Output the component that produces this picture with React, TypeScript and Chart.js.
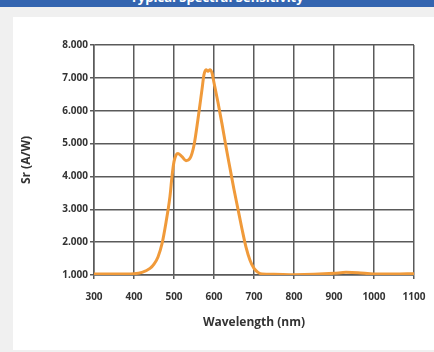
import React, { useEffect, useRef } from "react";
import { Chart, registerables } from "chart.js";

Chart.register(...registerables);

const wavelengths = [300, 350, 400, 420, 440, 450, 460, 470, 480, 490, 495, 500, 505, 510, 520, 530, 540, 550, 560, 570, 575, 580, 585, 590, 595, 600, 610, 620, 630, 640, 650, 660, 670, 680, 690, 700, 710, 720, 750, 800, 850, 900, 930, 960, 1000, 1050, 1100];
const sensitivity = [1030, 1030, 1040, 1080, 1200, 1330, 1550, 1950, 2600, 3400, 4000, 4450, 4650, 4700, 4600, 4480, 4550, 4950, 5750, 6650, 7100, 7250, 7200, 7250, 7150, 6850, 6250, 5600, 4900, 4250, 3600, 3000, 2400, 1850, 1450, 1200, 1080, 1030, 1020, 1010, 1020, 1050, 1080, 1070, 1030, 1030, 1040];

const xTicks = [300, 400, 500, 600, 700, 800, 900, 1000, 1100];
const yTicks = [1000, 2000, 3000, 4000, 5000, 6000, 7000, 8000];
const yTitle = "Sr (A/W)";
const xTitle = "Wavelength (nm)";
const headerText = "Typical Spectral Sensitivity";

const fmt = (v: number) => {
  const s = String(Math.round(v));
  return s.length > 3 ? s.slice(0, s.length - 3) + "." + s.slice(-3) : s;
};

export default function App() {
  const ref = useRef<HTMLCanvasElement | null>(null);
  useEffect(() => {
    if (!ref.current) return;
    const tickFont = { family: "'Open Sans', sans-serif", size: 10, weight: "bold" as const };
    const titleFont = { family: "'Open Sans', sans-serif", size: 12, weight: "bold" as const };
    const chart = new Chart(ref.current, {
      type: "line",
      data: {
        datasets: [
          {
            data: wavelengths.map((w, i) => ({ x: w, y: sensitivity[i] })),
            borderColor: "#f09a3a",
            borderWidth: 3,
            pointRadius: 0,
            fill: false,
            cubicInterpolationMode: "monotone",
          },
        ],
      },
      options: {
        animation: false,
        responsive: false,
        maintainAspectRatio: false,
        layout: { padding: { left: 15, right: 20, top: 45, bottom: 18 } },
        plugins: { legend: { display: false }, tooltip: { enabled: false } },
        scales: {
          x: {
            type: "linear",
            min: 300,
            max: 1100,
            afterBuildTicks: (s: any) => {
              s.ticks = xTicks.map((v) => ({ value: v }));
            },
            afterFit: (s: any) => {
              s.height = 59;
              s.paddingLeft = 0;
              s.paddingRight = 0;
            },
            ticks: { color: "#333", font: tickFont, padding: 12, maxRotation: 0, autoSkip: false, callback: (v: any) => String(v) },
            grid: { color: "#5a5a5a", lineWidth: 1.5, tickLength: 4 },
            border: { color: "#5a5a5a", width: 1.5 },
            title: { display: true, text: xTitle, color: "#333", font: titleFont, padding: { top: 4, bottom: 4 } },
          },
          y: {
            type: "linear",
            min: 1000,
            max: 8000,
            afterBuildTicks: (s: any) => {
              s.ticks = yTicks.map((v) => ({ value: v }));
            },
            afterFit: (s: any) => {
              s.width = 79;
              s.paddingTop = 0;
              s.paddingBottom = 0;
            },
            ticks: { color: "#333", font: tickFont, padding: 2, callback: (v: any) => fmt(Number(v)) },
            grid: { color: "#5a5a5a", lineWidth: 1.5, tickLength: 4 },
            border: { color: "#5a5a5a", width: 1.5 },
            title: { display: true, text: yTitle, color: "#333", font: titleFont, padding: { top: 4, bottom: 4 } },
          },
        },
      },
    });
    return () => chart.destroy();
  }, []);

  return (
    <div style={{ position: "fixed", left: 0, top: 0, width: 434, height: 352, background: "#f0f0f0", overflow: "hidden" }}>
      <div
        style={{
          position: "absolute",
          left: 0,
          top: -12,
          width: 434,
          height: 19,
          background: "#3465b0",
          color: "#fff",
          font: "bold 13px 'Open Sans', sans-serif",
          textAlign: "center",
          lineHeight: "19px",
        }}
      >
        {headerText}
      </div>
      <div style={{ position: "absolute", left: 13, top: 17, width: 421, height: 333, background: "#fff" }} />
      <canvas ref={ref} width={434} height={352} style={{ position: "absolute", left: 0, top: 0, width: 434, height: 352 }} />
    </div>
  );
}
